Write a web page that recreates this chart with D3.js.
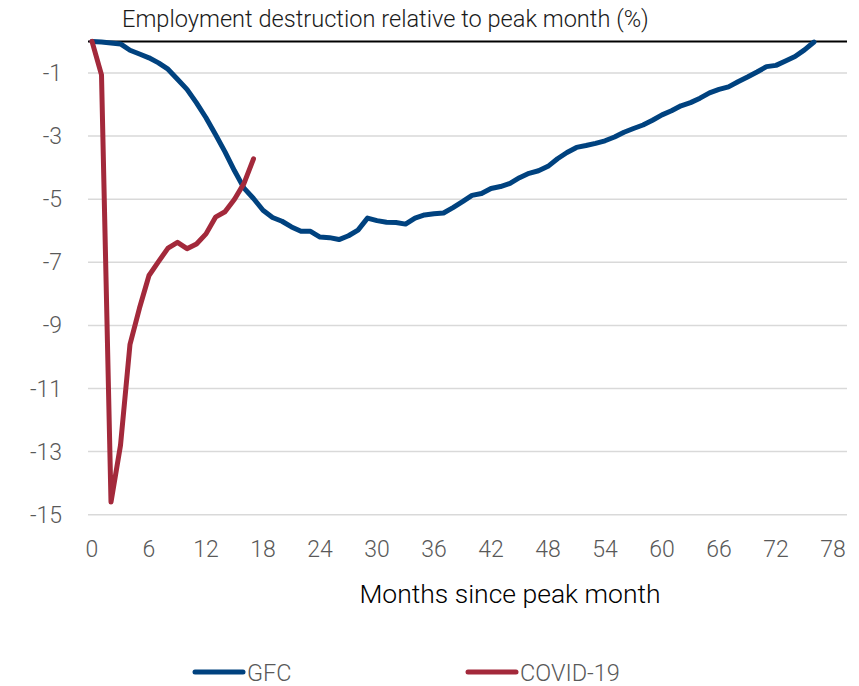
<!DOCTYPE html>
<html>
<head>
<meta charset="utf-8">
<script src="https://cdn.jsdelivr.net/npm/d3@7"></script>
<style>
  html, body { margin: 0; padding: 0; background: #fff; }
  svg { display: block; font-family: "Roboto", "Liberation Sans", sans-serif; font-weight: 300; }
</style>
</head>
<body>
<div id="chart"></div>
<script>
// ---------- data ----------
const gfcMonths = d3.range(0, 77);
const gfcValues = [
  0, -0.02, -0.05, -0.08, -0.28, -0.40, -0.52, -0.68, -0.88, -1.20,
  -1.52, -1.95, -2.42, -2.95, -3.50, -4.10, -4.65, -4.98, -5.35, -5.58,
  -5.70, -5.88, -6.02, -6.02, -6.20, -6.22, -6.28, -6.16, -5.98, -5.60,
  -5.68, -5.73, -5.74, -5.79, -5.60, -5.50, -5.46, -5.44, -5.27, -5.08,
  -4.88, -4.82, -4.66, -4.60, -4.50, -4.32, -4.18, -4.10, -3.96, -3.72,
  -3.52, -3.36, -3.30, -3.23, -3.15, -3.03, -2.88, -2.76, -2.65, -2.50,
  -2.33, -2.20, -2.04, -1.94, -1.80, -1.63, -1.52, -1.44, -1.28, -1.13,
  -0.97, -0.80, -0.76, -0.62, -0.48, -0.27, -0.02
];
const covidMonths = d3.range(0, 18);
const covidValues = [
  0, -1.06, -14.6, -12.8, -9.6, -8.45, -7.42, -6.98, -6.55, -6.37,
  -6.57, -6.42, -6.10, -5.57, -5.40, -5.00, -4.50, -3.72
];
const xTicks = d3.range(0, 79, 6);
const yTicks = [-1, -3, -5, -7, -9, -11, -13, -15];
const seriesNames = ["GFC", "COVID-19"];
const seriesColors = ["#00427f", "#a3293b"];

const titleText = "Employment destruction relative to peak month (%)";
const xTitleText = "Months since peak month";

// ---------- layout ----------
const W = 859, H = 686;
const plotLeft = 88, plotRight = 847;
const x = d3.scaleLinear().domain([0, 78]).range([92, 833]);
const y = d3.scaleLinear().domain([0, -15]).range([41.4, 514.7]);

const svg = d3.select("#chart").append("svg")
  .attr("width", W).attr("height", H);

// gridlines
svg.append("g").selectAll("line").data(yTicks).join("line")
  .attr("x1", plotLeft).attr("x2", plotRight)
  .attr("y1", d => y(d)).attr("y2", d => y(d))
  .attr("stroke", "#d9d9d9").attr("stroke-width", 1.5);

// y tick labels
svg.append("g").selectAll("text").data(yTicks).join("text")
  .attr("x", 62).attr("y", d => y(d))
  .attr("dy", "0.35em")
  .attr("text-anchor", "end")
  .attr("font-size", 23)
  .attr("fill", "#595959")
  .text(d => d);

// x tick labels
svg.append("g").selectAll("text").data(xTicks).join("text")
  .attr("x", d => x(d)).attr("y", 557)
  .attr("text-anchor", "middle")
  .attr("font-size", 23)
  .attr("fill", "#595959")
  .text(d => d);

// zero line
svg.append("line")
  .attr("x1", plotLeft).attr("x2", plotRight)
  .attr("y1", y(0)).attr("y2", y(0))
  .attr("stroke", "#000").attr("stroke-width", 2);

// lines
const line = d3.line().x(d => x(d[0])).y(d => y(d[1]));
const gfcData = gfcMonths.map((m, i) => [m, gfcValues[i]]);
const covidData = covidMonths.map((m, i) => [m, covidValues[i]]);

svg.append("path").datum(gfcData)
  .attr("d", line).attr("fill", "none")
  .attr("stroke", seriesColors[0]).attr("stroke-width", 5)
  .attr("stroke-linejoin", "round").attr("stroke-linecap", "round");

svg.append("path").datum(covidData)
  .attr("d", line).attr("fill", "none")
  .attr("stroke", seriesColors[1]).attr("stroke-width", 5)
  .attr("stroke-linejoin", "round").attr("stroke-linecap", "round");

// title
svg.append("text")
  .attr("x", 122).attr("y", 27)
  .attr("font-size", 23.6)
  .attr("fill", "#1a1a1a")
  .text(titleText);

// x axis title
svg.append("text")
  .attr("x", 510).attr("y", 603)
  .attr("text-anchor", "middle")
  .attr("font-size", 26.5)
  .attr("fill", "#000")
  .text(xTitleText);

// legend
const legendX = [195, 468];
const leg = svg.append("g").selectAll("g").data(seriesNames).join("g");
leg.append("line")
  .attr("x1", (d, i) => legendX[i]).attr("x2", (d, i) => legendX[i] + 48)
  .attr("y1", 672).attr("y2", 672)
  .attr("stroke", (d, i) => seriesColors[i]).attr("stroke-width", 5)
  .attr("stroke-linecap", "round");
leg.append("text")
  .attr("x", (d, i) => legendX[i] + 52).attr("y", 681)
  .attr("font-size", 23.5)
  .attr("fill", "#595959")
  .text(d => d);
</script>
</body>
</html>
